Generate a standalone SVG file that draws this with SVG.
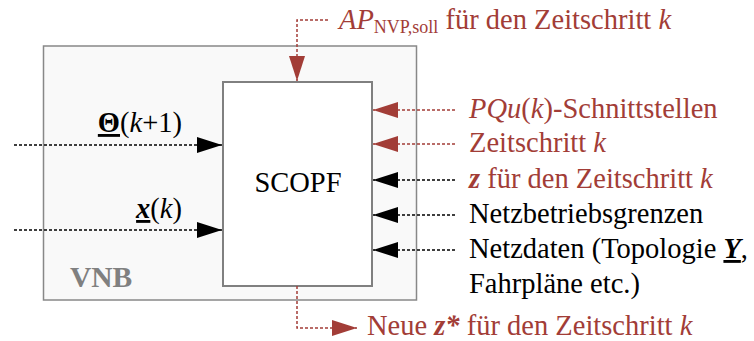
<svg xmlns="http://www.w3.org/2000/svg" width="754" height="341" viewBox="0 0 754 341">
<defs>
<style>
text{font-family:"Liberation Serif","Times New Roman",serif;font-size:28.5px}
.red{fill:#a23d37}
.blk{fill:#000}
.i{font-style:italic}
.b{font-weight:bold}
.u{text-decoration:underline}
.dl{fill:none;stroke-width:1.5;stroke-dasharray:3 2}
.dr{stroke:#a23d37}
.dk{stroke:#000}
</style>
<marker id="ak" markerUnits="userSpaceOnUse" markerWidth="26" markerHeight="16" refX="25" refY="8" orient="auto" viewBox="0 0 26 16"><path d="M0,0 L25,8 L0,16 z" fill="#000"/></marker>
<marker id="ar" markerUnits="userSpaceOnUse" markerWidth="26" markerHeight="16" refX="25" refY="8" orient="auto" viewBox="0 0 26 16"><path d="M0,0 L25,8 L0,16 z" fill="#a23d37"/></marker>
</defs>
<rect width="754" height="341" fill="#fff"/>
<g id="vnb">
<rect x="43.5" y="46" width="373" height="254" fill="#f9f9f9" stroke="#888" stroke-width="1.5"/>
<text x="70" y="287" class="b" style="font-size:29.5px" fill="#808080">VNB</text>
</g>
<g id="scopf">
<rect x="223" y="82" width="149" height="204" fill="#fff" stroke="#808080" stroke-width="2"/>
<text x="298" y="192" text-anchor="middle" class="blk">SCOPF</text>
</g>
<g id="connectors">
<path class="dl dk" d="M14,145 H222" marker-end="url(#ak)"/>
<path class="dl dk" d="M14,230 H222" marker-end="url(#ak)"/>
<path class="dl dr" d="M328,20 H297 V81" marker-end="url(#ar)"/>
<path class="dl dr" d="M297,286 V328 H357" marker-end="url(#ar)"/>
<path class="dl dr" d="M455,110 H373" marker-end="url(#ar)"/>
<path class="dl dr" d="M455,144 H373" marker-end="url(#ar)"/>
<path class="dl dk" d="M455,180 H373" marker-end="url(#ak)"/>
<path class="dl dk" d="M455,215 H373" marker-end="url(#ak)"/>
<path class="dl dk" d="M455,250 H373" marker-end="url(#ak)"/>
</g>
<g id="labels">
<text x="182" y="132" text-anchor="end" class="blk"><tspan class="b u">Θ</tspan>(<tspan class="i">k</tspan>+1)</text>
<text x="182" y="218" text-anchor="end" class="blk"><tspan class="b i u">x</tspan>(<tspan class="i">k</tspan>)</text>
<text x="339" y="29" class="red"><tspan class="i">AP</tspan><tspan style="font-size:18px" dy="4">NVP,soll</tspan><tspan dy="-4"> für den Zeitschritt </tspan><tspan class="i">k</tspan></text>
<text x="469" y="118" class="red"><tspan class="i">PQu</tspan>(<tspan class="i">k</tspan>)-Schnittstellen</text>
<text x="469" y="152" class="red">Zeitschritt <tspan class="i">k</tspan></text>
<text x="469" y="188" class="red"><tspan class="b i">z</tspan> für den Zeitschritt <tspan class="i">k</tspan></text>
<text x="469" y="223" class="blk">Netzbetriebsgrenzen</text>
<text x="469" y="258" class="blk">Netzdaten (Topologie <tspan class="b i u">Y</tspan>,</text>
<text x="469" y="293" class="blk">Fahrpläne etc.)</text>
<text x="367" y="335" class="red">Neue <tspan class="b i">z*</tspan> für den Zeitschritt <tspan class="i">k</tspan></text>
</g>
</svg>
